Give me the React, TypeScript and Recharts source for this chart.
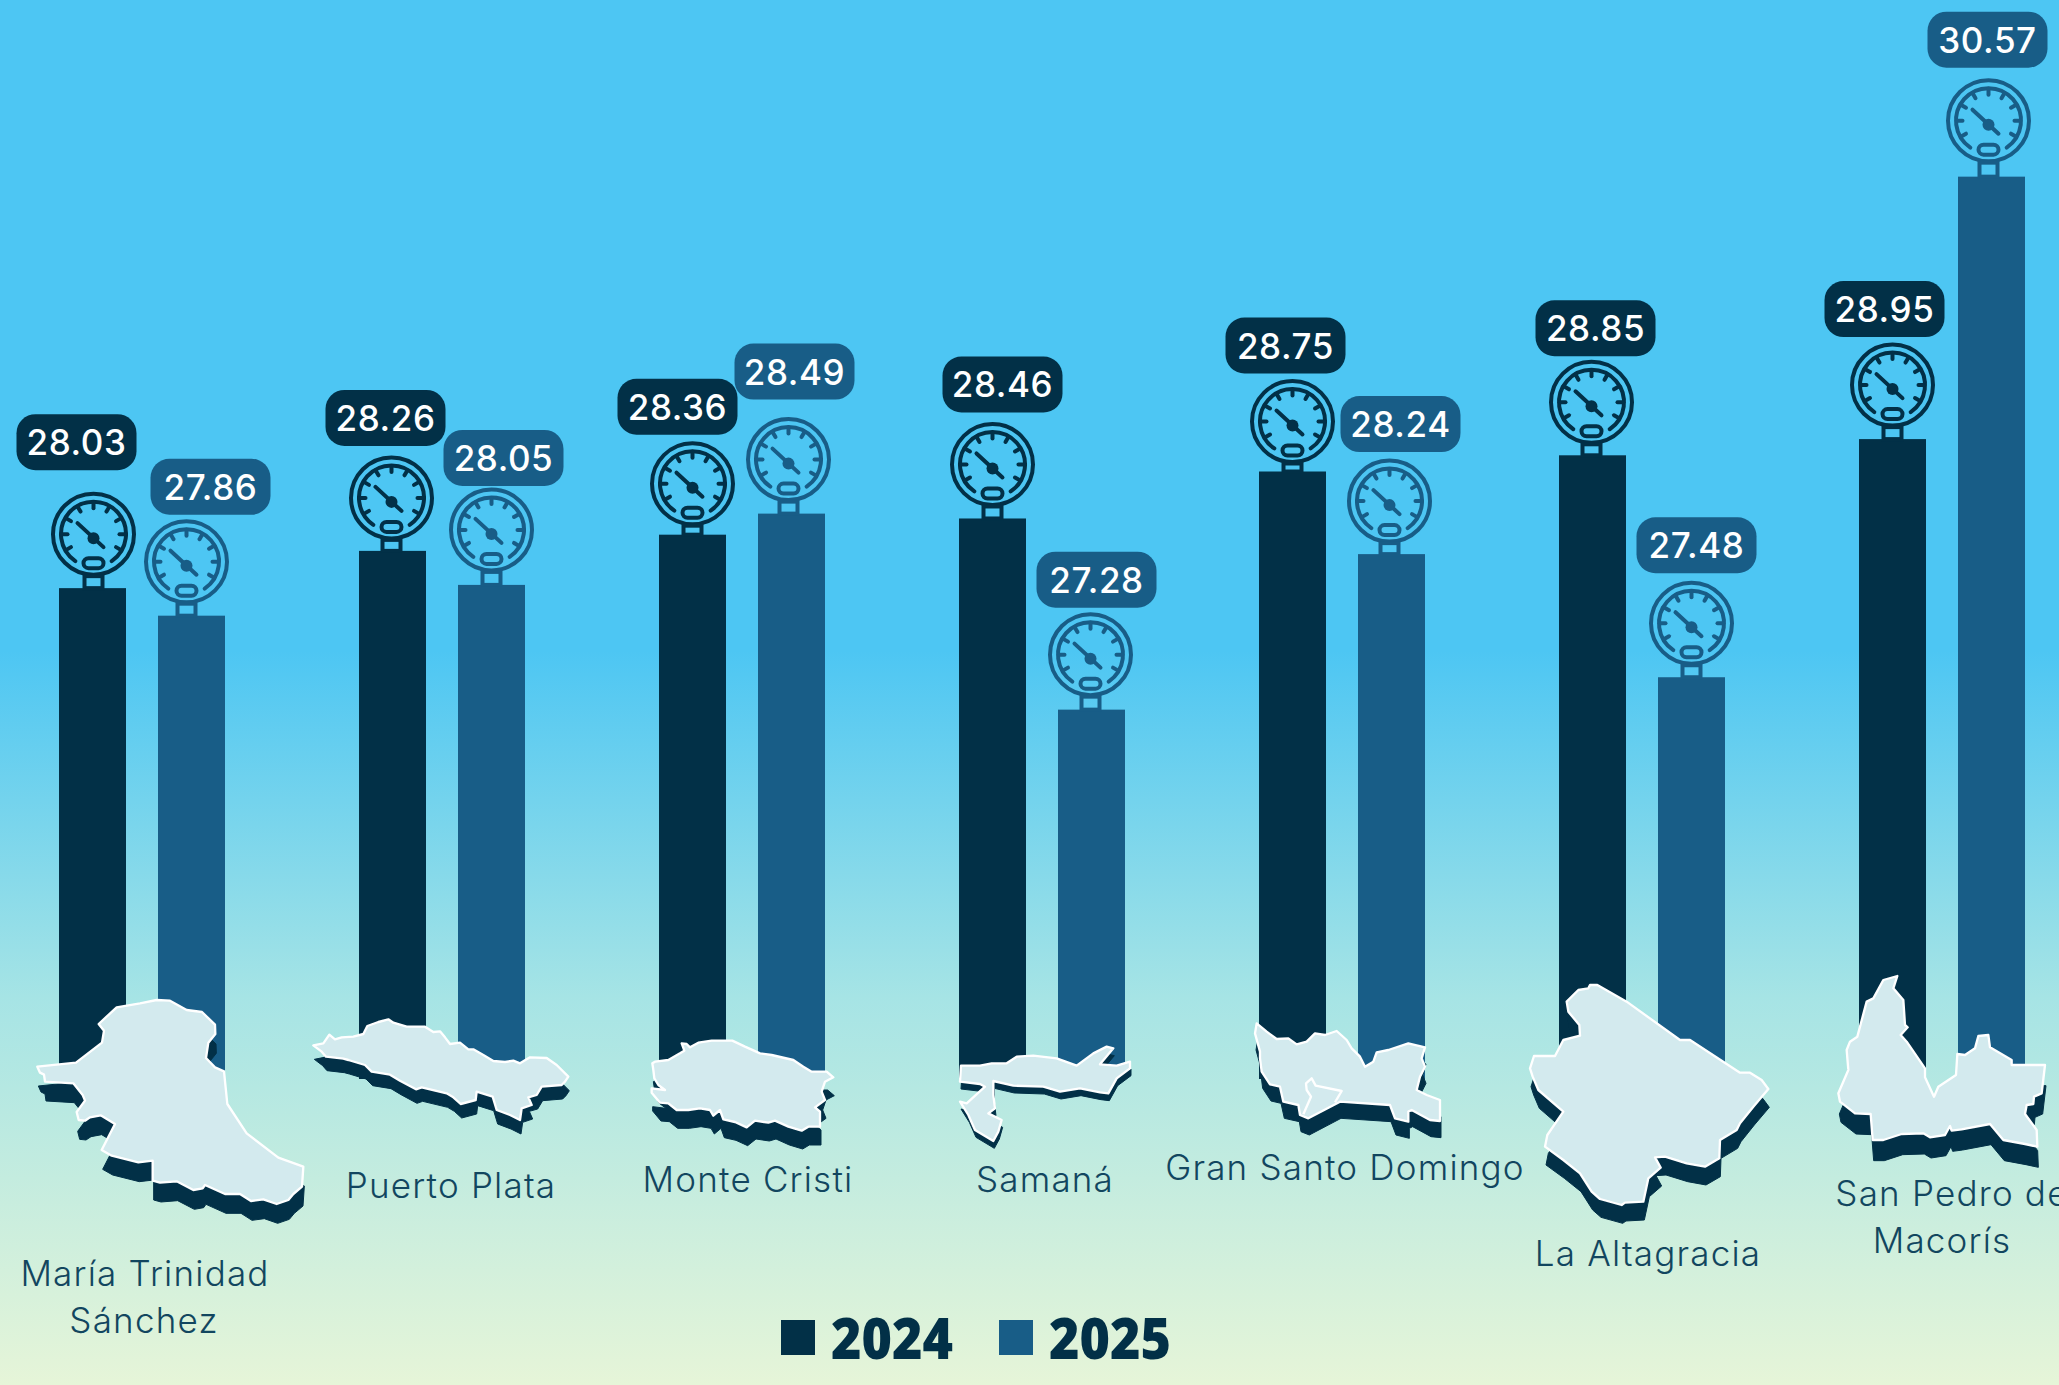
import React from 'react';
import { BarChart, Bar, XAxis, YAxis, Legend, LabelList } from 'recharts';

const categories = [
  'María Trinidad Sánchez',
  'Puerto Plata',
  'Monte Cristi',
  'Samaná',
  'Gran Santo Domingo',
  'La Altagracia',
  'San Pedro de Macorís',
];
const values2024 = [28.03, 28.26, 28.36, 28.46, 28.75, 28.85, 28.95];
const values2025 = [27.86, 28.05, 28.49, 27.28, 28.24, 27.48, 30.57];

const rows = categories.map((name, i) => ({ name, y2024: values2024[i], y2025: values2025[i] }));

const DARK = '#023047';
const BLUE = '#185D87';
const FONT = 'Inter, sans-serif';

// hand placed items, the source chart moved these around per bar
const pillNudge2024 = [[-16, -146], [-7, -133], [-15, -128], [10, -134], [-7, -126], [3, -127], [-8, -130]];
const pillNudge2025 = [[19, -129], [12, -127], [3, -142], [5, -130], [9, -130], [5, -132], [-4, -137]];
const gaugeNudge2024 = [[1, -54], [-1, -53], [0, -51], [0, -54], [0, -50], [-1, -53], [0, -54]];
const gaugeNudge2025 = [[-5, -54], [0, -55], [-3, -54], [-1, -55], [-2, -53], [0, -54], [-3, -56]];

const tickLayout = [
  { lines: [['María Trinidad', 3, 207], ['Sánchez', 2, 254]] },
  { lines: [['Puerto Plata', 9, 119]] },
  { lines: [['Monte Cristi', 6, 113]] },
  { lines: [['Samaná', 3, 113]] },
  { lines: [['Gran Santo Domingo', 3, 101]] },
  { lines: [['La Altagracia', 6, 187]] },
  { lines: [['San Pedro de', 10, 127], ['Macorís', 0, 174]] },
];

// province outlines, traced at 3x from the artwork: [left, top, shadow drop, points, inner line]
const maps: [number, number, number, string, string?][] = [
  [30, 990, 58, '22,230 138,218 216,158 222,122 206,102 260,52 330,40 380,30 420,32 470,60 516,66 555,104 556,132 535,158 528,204 555,232 582,244 592,342 650,430 745,503 820,530 816,590 790,612 775,630 740,642 700,628 663,633 630,612 585,612 525,585 518,595 490,600 440,574 390,578 368,572 368,512 325,517 245,497 215,480 255,402 212,376 180,382 165,392 146,390 140,366 165,332 158,315 130,280 45,275 42,254 30,248'],
  [310, 1010, 42, '10,106 40,100 58,74 75,88 95,82 130,80 160,72 172,48 205,36 235,28 250,38 290,50 345,50 370,66 390,64 405,82 420,102 450,98 475,118 490,118 520,135 550,153 585,156 610,152 630,160 660,142 710,144 740,165 775,200 765,215 755,225 695,230 680,255 655,262 665,285 635,295 630,330 600,315 560,300 548,260 500,245 497,270 452,282 430,262 410,250 335,232 318,238 270,212 240,194 185,185 165,165 115,150 100,146 48,140 35,125'],
  [645, 1030, 55, '22,100 30,95 70,90 105,70 118,62 110,40 125,42 135,52 160,38 200,32 262,32 300,50 345,70 380,75 445,90 475,110 500,125 545,125 565,142 540,155 530,185 540,210 510,232 525,245 525,290 490,290 470,302 430,290 390,272 370,278 330,272 305,292 270,276 235,268 225,240 205,257 195,240 165,235 130,240 95,240 70,220 45,218 20,188 20,175 60,180 40,165 28,145 25,120'],
  [950, 1035, 22, '33,92 90,92 125,85 170,85 200,65 250,62 320,70 380,92 430,55 470,35 490,40 450,88 500,92 540,80 540,100 500,130 475,175 450,172 390,160 330,170 280,155 190,152 130,138 130,180 135,220 115,235 155,255 145,290 130,318 75,285 55,240 30,200 50,205 105,155 90,147 30,140'],
  [1245, 1015, 50, '35,25 65,50 95,72 130,70 155,88 185,80 210,55 240,60 275,48 305,75 320,100 345,125 360,155 385,140 395,112 430,105 490,85 540,97 530,130 540,155 525,185 515,225 545,240 585,255 585,318 555,315 500,285 490,290 490,320 450,310 435,270 285,260 190,310 165,300 160,270 115,260 105,215 75,208 50,170 45,130 45,110 30,55', '175,298 198,245 185,225 183,205 200,190 212,212 290,228 270,262'],
  [1520, 975, 55, '30,280 42,243 105,243 130,195 180,182 178,150 145,110 140,80 175,45 205,40 210,30 232,30 320,80 480,195 510,195 660,293 690,293 725,315 745,342 700,395 660,445 650,465 600,495 598,550 555,575 500,565 435,545 405,547 422,578 385,610 370,680 315,683 305,690 240,672 215,650 180,595 130,555 75,515 82,480 130,410 55,345 38,305'],
  [1830, 970, 62, '25,370 55,300 50,240 60,215 82,200 102,125 110,95 130,85 160,30 202,18 190,55 220,90 225,165 233,172 212,195 230,215 285,295 285,322 312,380 325,350 378,315 382,252 405,255 435,235 445,198 475,195 480,232 545,270 545,285 645,285 635,370 612,380 610,402 590,405 585,432 620,480 622,530 585,522 520,510 480,462 395,478 365,482 360,468 345,495 300,502 280,490 215,492 160,510 128,510 122,432 75,430 30,395'],
];

const tickAngles = [-120, -90, -60, -30, 0, 30, 60, 90, 120];

const Gauge = ({ cx, cy, top, color }: { cx: number; cy: number; top: number; color: string }) => {
  const arcA = (146 * Math.PI) / 180;
  const ax = 32.5 * Math.sin(arcA);
  const ay = -32.5 * Math.cos(arcA);
  return (
    <g fill="none" stroke={color} strokeWidth={4} strokeLinecap="round">
      <circle cx={cx} cy={cy} r={40.5} />
      <path d={`M${cx - ax} ${cy + ay} A32.5 32.5 0 1 1 ${cx + ax} ${cy + ay}`} />
      {tickAngles.map((a) => {
        const r = (a * Math.PI) / 180;
        return (
          <line
            key={a}
            x1={cx + 32 * Math.sin(r)}
            y1={cy - 32 * Math.cos(r)}
            x2={cx + 26 * Math.sin(r)}
            y2={cy - 26 * Math.cos(r)}
          />
        );
      })}
      <line x1={cx - 16} y1={cy - 11} x2={cx + 10} y2={cy + 13} />
      <circle cx={cx} cy={cy + 4} r={6} fill={color} stroke="none" />
      <rect x={cx - 10} y={cy + 24} width={20} height={10} rx={5} />
      <rect x={cx - 9} y={cy + 42} width={18} height={Math.max(top - cy - 42, 0)} strokeLinecap="butt" />
    </g>
  );
};

const barShape = (nudges: number[][], color: string) => (props: any) => {
  const { x, y, width, height, index } = props;
  return (
    <g>
      <rect x={x} y={y} width={width} height={height} fill={color} />
      <Gauge cx={x + width / 2 + nudges[index][0]} cy={y + nudges[index][1]} top={y} color={color} />
    </g>
  );
};

const pillLabel = (nudges: number[][], color: string) => (props: any) => {
  const { x, y, width, value, index } = props;
  const cx = x + width / 2 + nudges[index][0];
  const cy = y + nudges[index][1];
  return (
    <g>
      <rect x={cx - 60} y={cy - 28} width={120} height={56} rx={19} fill={color} />
      <text
        x={cx}
        y={cy + 13}
        textAnchor="middle"
        fill="#fff"
        fontFamily={FONT}
        fontSize={35}
        fontWeight={500}
        letterSpacing={0.6}
      >
        {Number(value).toFixed(2)}
      </text>
    </g>
  );
};

const CategoryTick = (props: any) => {
  const { x, index } = props;
  const layout = tickLayout[index];
  return (
    <g>
      {layout.lines.map(([text, dx, y]) => (
        <text
          key={text as string}
          x={x + (dx as number)}
          y={1079 + (y as number)}
          textAnchor="middle"
          fill="#12465F"
          fontFamily={FONT}
          fontSize={35}
          fontWeight={300}
          letterSpacing={1.2}
        >
          {text}
        </text>
      ))}
    </g>
  );
};

const LegendContent = () => (
  <div style={{ display: 'flex', alignItems: 'center', height: 50 }}>
    {[
      { label: '2024', color: DARK, width: 218 },
      { label: '2025', color: BLUE, width: 200 },
    ].map((item) => (
      <div key={item.label} style={{ display: 'flex', alignItems: 'center', width: item.width, flexShrink: 0 }}>
        <span style={{ width: 34, height: 35, background: item.color, display: 'inline-block', marginRight: 16, flexShrink: 0 }} />
        <span
          style={{
            fontFamily: '"Open Sans", sans-serif',
            fontWeight: 800,
            fontSize: 56,
            lineHeight: '50px',
            color: DARK,
            display: 'inline-block',
            transform: 'scaleX(0.93)',
            transformOrigin: 'left center',
          }}
        >
          {item.label}
        </span>
      </div>
    ))}
  </div>
);

const App = () => (
  <div
    style={{
      position: 'absolute',
      left: 0,
      top: 0,
      width: 2059,
      height: 1385,
      overflow: 'hidden',
      background: 'linear-gradient(180deg, #4DC6F3 0%, #4DC6F3 47%, #A6E4E5 72%, #E6F5D8 100%)',
    }}
  >
    <div style={{ position: 'absolute', left: -8, top: 0 }}>
      <BarChart
        width={2100}
        height={1385}
        data={rows}
        margin={{ top: 107, right: 0, bottom: 0, left: 0 }}
        barSize={67}
        barGap={32}
      >
        <XAxis dataKey="name" height={306} axisLine={false} tickLine={false} interval={0} tick={CategoryTick} />
        <YAxis hide domain={[25, 31]} />
        <Legend
          verticalAlign="middle"
          align="center"
          layout="horizontal"
          content={LegendContent}
          wrapperStyle={{ left: 789, top: 1312, width: 420, height: 50 }}
        />
        <Bar dataKey="y2024" name="2024" fill={DARK} isAnimationActive={false} shape={barShape(gaugeNudge2024, DARK)}>
          <LabelList dataKey="y2024" content={pillLabel(pillNudge2024, DARK)} />
        </Bar>
        <Bar dataKey="y2025" name="2025" fill={BLUE} isAnimationActive={false} shape={barShape(gaugeNudge2025, BLUE)}>
          <LabelList dataKey="y2025" content={pillLabel(pillNudge2025, BLUE)} />
        </Bar>
      </BarChart>
    </div>
    <svg width={2059} height={1385} style={{ position: 'absolute', left: 0, top: 0, pointerEvents: 'none' }}>
      {maps.map(([left, top, drop, points, inner]) => (
        <g key={left} transform={`translate(${left} ${top}) scale(${1 / 3})`}>
          <polygon points={points} fill={DARK} stroke={DARK} strokeWidth={3} transform={`translate(3 ${drop})`} />
          <polygon points={points} fill="#D3EAEE" stroke="#fff" strokeWidth={7} strokeLinejoin="round" />
          {inner && <polyline points={inner} fill="none" stroke="#fff" strokeWidth={7} strokeLinejoin="round" />}
        </g>
      ))}
    </svg>
  </div>
);

export default App;
